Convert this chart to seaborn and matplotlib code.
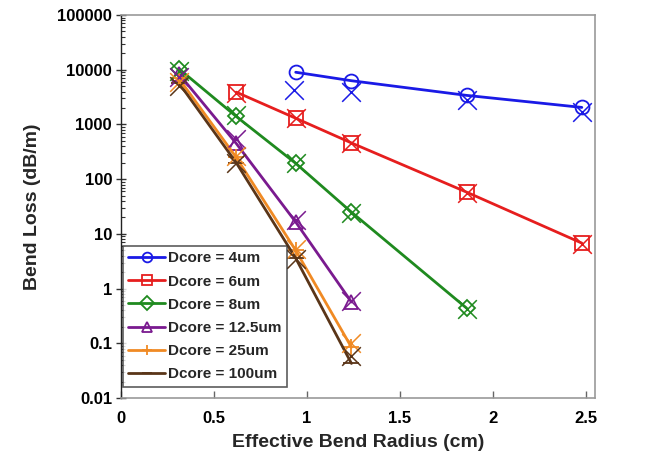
import numpy as np
import pandas as pd
import matplotlib
matplotlib.use("Agg")
import matplotlib.pyplot as plt
import seaborn as sns
from matplotlib.ticker import FixedLocator, FixedFormatter, LogLocator, NullFormatter, NullLocator

# ---- data ----
labels = ["Dcore = 4um", "Dcore = 6um", "Dcore = 8um", "Dcore = 12.5um", "Dcore = 25um", "Dcore = 100um"]
x_4 = [0.94, 1.24, 1.86, 2.48]
y_4 = [9000, 6300, 3400, 2050]
x_6 = [0.62, 0.94, 1.24, 1.86, 2.48]
y_6 = [3900, 1300, 460, 58, 6.8]
x_8 = [0.31, 0.62, 0.94, 1.24, 1.86]
y_8 = [10500, 1400, 195, 25, 0.44]
x_125 = [0.31, 0.62, 0.94, 1.24]
y_125 = [8500, 450, 16.5, 0.57]
x_25 = [0.31, 0.62, 0.94, 1.24]
y_25 = [7000, 250, 5.0, 0.085]
x_100 = [0.31, 0.62, 0.94, 1.24]
y_100 = [5800, 200, 3.6, 0.043]

# simulated points (X markers)
sx_4 = [0.93, 1.24, 1.86, 2.48]
sy_4 = [4200, 3900, 2800, 1700]
sx_6 = [0.62, 0.94, 1.24, 1.86, 2.48]
sy_6 = [3800, 1300, 450, 55, 6.5]
sx_8 = [0.31, 0.62, 0.94, 1.24, 1.86]
sy_8 = [9500, 1500, 200, 24, 0.42]
sx_125 = [0.31, 0.62, 0.94, 1.24]
sy_125 = [7500, 550, 18, 0.6]
sx_25 = [0.31, 0.62, 0.94, 1.24]
sy_25 = [6000, 260, 5.2, 0.1]
sx_100 = [0.31, 0.62, 0.94, 1.24]
sy_100 = [5000, 200, 3.5, 0.06]

xticks = [0, 0.5, 1, 1.5, 2, 2.5]
xticklabels = ["0", "0.5", "1", "1.5", "2", "2.5"]
yticks = [0.01, 0.1, 1, 10, 100, 1000, 10000, 100000]
yticklabels = ["0.01", "0.1", "1", "10", "100", "1000", "10000", "100000"]

colors = ["#1a1ae6", "#e61e1e", "#1f8a1f", "#7a1a8f", "#f08a24", "#5a3518"]
markers = ["o", "s", "D", "^", "+", "_"]
msizes = [10, 10, 8, 10, 12, 12]

series = [(x_4, y_4), (x_6, y_6), (x_8, y_8), (x_125, y_125), (x_25, y_25), (x_100, y_100)]
sims = [(sx_4, sy_4), (sx_6, sy_6), (sx_8, sy_8), (sx_125, sy_125), (sx_25, sy_25), (sx_100, sy_100)]

sns.set_theme(style="white")
plt.rcParams["font.family"] = ["Liberation Sans", "DejaVu Sans"]
plt.rcParams["font.weight"] = "bold"

fig = plt.figure(figsize=(6.58, 4.55), dpi=100)
ax = fig.add_axes([0.184, 0.125, 0.72, 0.842])

for (xs, ys), lab, c, m, ms in zip(series, labels, colors, markers, msizes):
    df = pd.DataFrame({"x": xs, "y": ys})
    sns.lineplot(data=df, x="x", y="y", ax=ax, color=c, linewidth=2.0, marker=m,
                 markersize=ms, markerfacecolor="none", markeredgecolor=c,
                 markeredgewidth=1.3, label=lab, sort=False, zorder=3)

for (xs, ys), c in zip(sims, colors):
    df = pd.DataFrame({"x": xs, "y": ys})
    sns.scatterplot(data=df, x="x", y="y", ax=ax, color=c, marker="x", s=180,
                    linewidth=1.1, zorder=4, legend=False)

ax.set_yscale("log")
ax.set_xlim(0, 2.55)
ax.set_ylim(0.01, 100000)
ax.xaxis.set_major_locator(FixedLocator(xticks))
ax.xaxis.set_major_formatter(FixedFormatter(xticklabels))
ax.xaxis.set_minor_locator(NullLocator())
ax.yaxis.set_major_locator(FixedLocator(yticks))
ax.yaxis.set_major_formatter(FixedFormatter(yticklabels))
ax.yaxis.set_minor_locator(LogLocator(base=10, subs=np.arange(2, 10)))
ax.yaxis.set_minor_formatter(NullFormatter())

ax.tick_params(axis="x", which="major", direction="in", length=5, width=1, colors="#666666",
               labelcolor="black", labelsize=12, pad=9)
ax.tick_params(axis="y", which="major", direction="inout", length=7, width=1, colors="#333333",
               labelcolor="black", labelsize=12, pad=3)
ax.tick_params(axis="y", which="minor", direction="in", length=3, width=0.8, colors="#333333", left=True)
ax.tick_params(axis="y", left=True)
ax.tick_params(axis="x", bottom=True)
for lab in ax.get_xticklabels() + ax.get_yticklabels():
    lab.set_fontweight("bold")

for s in ["top", "right", "bottom"]:
    ax.spines[s].set_color("#999999")
    ax.spines[s].set_linewidth(1.2)
ax.spines["left"].set_color("#222222")
ax.spines["left"].set_linewidth(1.0)

ax.set_xlabel("Effective Bend Radius (cm)", fontsize=14, fontweight="bold", labelpad=6)
ax.set_ylabel("Bend Loss (dB/m)", fontsize=14, fontweight="bold", labelpad=12)

leg = ax.legend(loc="lower left", bbox_to_anchor=(0.004, 0.03), frameon=True, fancybox=False,
                edgecolor="#333333", prop={"weight": "bold", "size": 11},
                handlelength=2.4, handletextpad=0.2, labelspacing=0.6, borderpad=0.35,
                borderaxespad=0.0)
leg.get_frame().set_linewidth(1.2)
for h in leg.legend_handles:
    h.set_markersize(7)

fig.savefig("out.png", dpi=100)
